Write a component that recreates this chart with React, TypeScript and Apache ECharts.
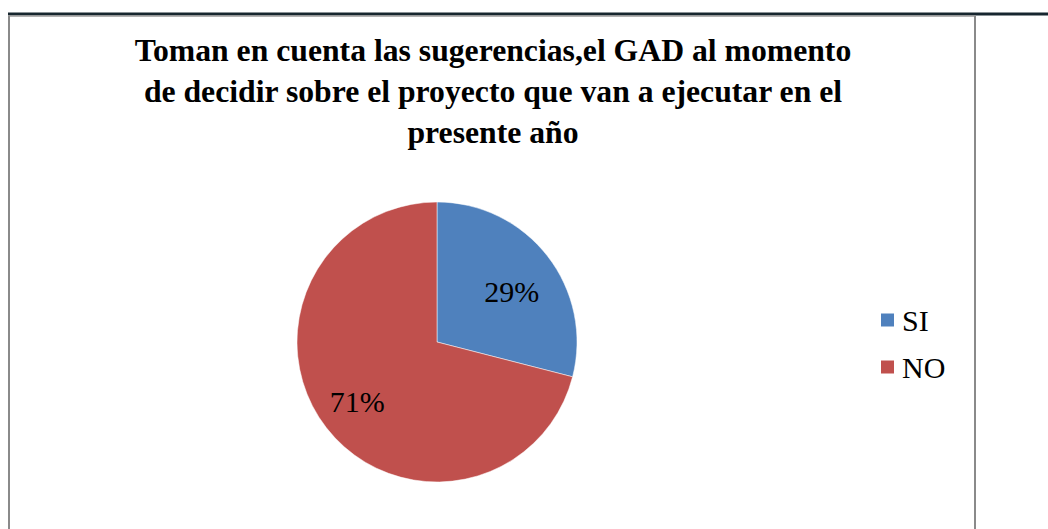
import React, { useEffect, useRef } from "react";
import * as echarts from "echarts";

const titleLines = [
  "Toman en cuenta las sugerencias,el GAD al momento",
  "de decidir sobre el proyecto que van a ejecutar en el",
  "presente año",
];
const categories = ["SI", "NO"];
const values = [29, 71];
const colors = ["#4f81bd", "#c0504d"];
const labelShift = [
  [17, -6],
  [-22, 15],
];

export default function App() {
  const ref = useRef<HTMLDivElement>(null);
  useEffect(() => {
    const chart = echarts.init(ref.current!, null, { renderer: "svg" });
    const serif = "Liberation Serif";
    chart.setOption({
      animation: false,
      backgroundColor: "#ffffff",
      title: {
        text: titleLines.join("\n"),
        left: 488,
        textAlign: "center",
        top: 25,
        textStyle: {
          fontFamily: serif,
          fontWeight: "bold",
          fontSize: 31.7,
          lineHeight: 41,
          color: "#000",
        },
      },
      legend: {
        orient: "vertical",
        left: 874,
        top: 300,
        itemWidth: 15,
        itemHeight: 15,
        itemGap: 17,
        icon: "rect",
        textStyle: { fontFamily: serif, fontSize: 30, color: "#000", padding: [0, 0, 0, 2] },
        data: categories,
      },
      graphic: [
        { type: "line", shape: { x1: 8, y1: 14, x2: 1048, y2: 14 }, style: { stroke: "#17262f", lineWidth: 3 } },
        { type: "line", shape: { x1: 8, y1: 16, x2: 975, y2: 16 }, style: { stroke: "#9a9a9a", lineWidth: 1.5 } },
        { type: "line", shape: { x1: 9, y1: 16, x2: 9, y2: 529 }, style: { stroke: "#8a8a8a", lineWidth: 2 } },
        { type: "line", shape: { x1: 975, y1: 16, x2: 975, y2: 529 }, style: { stroke: "#8a8a8a", lineWidth: 2 } },
      ],
      series: [
        {
          type: "pie",
          center: [437, 342],
          radius: 140,
          startAngle: 90,
          clockwise: true,
          data: categories.map((c, i) => ({
            name: c,
            value: values[i],
            itemStyle: { color: colors[i] },
          })),
          itemStyle: { borderColor: "#ffffff", borderWidth: 0.5 },
          label: {
            position: "inside",
            formatter: (p: any) => `${p.value}%`,
            fontFamily: serif,
            fontSize: 30,
            color: "#000",
          },
          labelLayout: (p: any) => ({ dx: labelShift[p.dataIndex][0], dy: labelShift[p.dataIndex][1] }),
          labelLine: { show: false },
          emphasis: { disabled: true },
        },
      ],
    });
    return () => chart.dispose();
  }, []);
  return (
    <div
      ref={ref}
      style={{ position: "fixed", left: 0, top: 0, width: 1048, height: 529 }}
    />
  );
}
